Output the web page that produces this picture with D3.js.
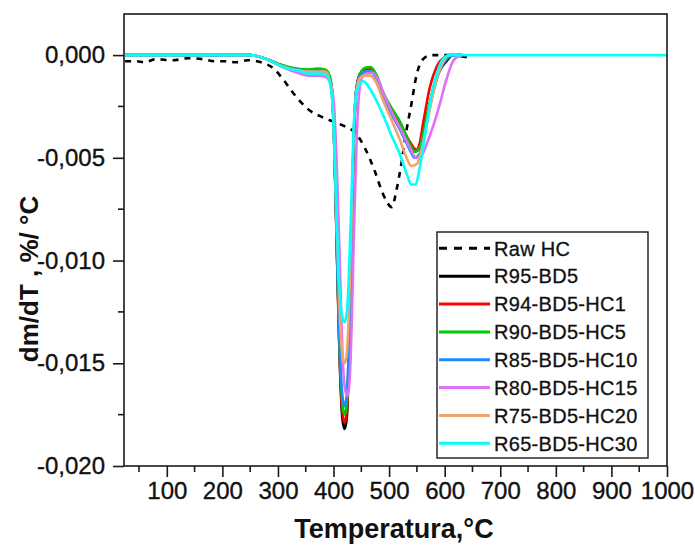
<!DOCTYPE html>
<html>
<head>
<meta charset="utf-8">
<script src="https://cdn.jsdelivr.net/npm/d3@7"></script>
<style>
  html, body { margin: 0; padding: 0; background: #fff; }
  svg { display: block; font-family: "Liberation Sans", Arial, sans-serif; }
</style>
</head>
<body>
<svg id="chart" width="695" height="545"></svg>
<script>
// DTG curves: temperature (°C) and mass-loss rate (%/°C)
const rawHcT = [25, 45, 60, 80, 110, 140, 165, 185, 205, 225, 245, 262, 275, 290, 309, 327, 354, 381, 411, 441, 456, 474, 489, 505, 513, 522, 531, 540, 549, 561, 576, 600, 640];
const rawHcV = [-0.0003, -0.0003, -0.00035, -0.0002, -0.00025, -0.00015, -0.0002, -0.0003, -0.0003, -0.00035, -0.00025, -0.0003, -0.0004, -0.0006, -0.00117, -0.00183, -0.00263, -0.00304, -0.00336, -0.00384, -0.0045, -0.00563, -0.00676, -0.0074, -0.0066, -0.0053, -0.0037, -0.0024, -0.00102, -0.0002, 0, 0, 0];

const r95T = [25, 200, 250, 280, 309, 339, 355, 370, 385, 393, 398, 402, 406, 411, 416, 420, 424, 428, 432, 436, 441, 448, 458, 466, 478, 489, 505, 519, 537, 546, 553, 561, 573, 585, 603, 615, 640];
const r95V = [0, 0, 0, -0.0002, -0.00053, -0.0007, -0.00075, -0.00072, -0.00075, -0.0011, -0.002, -0.005, -0.0095, -0.0148, -0.0177, -0.0182, -0.0176, -0.0145, -0.0095, -0.0045, -0.0017, -0.0009, -0.00065, -0.0006, -0.0011, -0.0019, -0.0027, -0.0033, -0.0043, -0.0047, -0.0046, -0.0038, -0.0024, -0.0011, -0.0003, 0, -0.0001];

const r94T = [25, 200, 250, 280, 309, 339, 355, 370, 385, 393, 398, 402, 406, 411, 416, 420, 424, 428, 432, 436, 441, 448, 458, 466, 478, 489, 505, 519, 537, 549, 555, 562, 573, 585, 600, 612, 625];
const r94V = [0, 0, 0, -0.0002, -0.00053, -0.0007, -0.00077, -0.00075, -0.00078, -0.0011, -0.002, -0.005, -0.0095, -0.0146, -0.0174, -0.0179, -0.0173, -0.0143, -0.0094, -0.0045, -0.0017, -0.0009, -0.00068, -0.00065, -0.0011, -0.0019, -0.0027, -0.0033, -0.0042, -0.0046, -0.0043, -0.0032, -0.0016, -0.0006, -0.0001, 0, 0];

const r90T = [25, 200, 250, 280, 309, 339, 355, 370, 385, 393, 398, 402, 406, 411, 416, 420, 424, 428, 432, 436, 441, 448, 458, 466, 478, 489, 505, 519, 537, 546, 555, 564, 575, 588, 603, 615, 630];
const r90V = [0, 0, 0, -0.0002, -0.0005, -0.00068, -0.0007, -0.00065, -0.0007, -0.001, -0.0019, -0.0048, -0.0092, -0.0143, -0.017, -0.0175, -0.0169, -0.014, -0.0092, -0.0044, -0.0017, -0.0009, -0.0006, -0.00058, -0.001, -0.0018, -0.0026, -0.0032, -0.0043, -0.0047, -0.0045, -0.0035, -0.0021, -0.0009, -0.0002, 0, 0];

const r85T = [25, 200, 250, 280, 309, 339, 355, 370, 385, 393, 398, 402, 406, 411, 416, 420, 424, 428, 432, 436, 441, 448, 458, 466, 478, 489, 505, 519, 537, 546, 555, 564, 575, 588, 603, 615, 630];
const r85V = [0, 0, 0, -0.0002, -0.00055, -0.00072, -0.0008, -0.00078, -0.0008, -0.0012, -0.0022, -0.005, -0.0093, -0.0142, -0.0166, -0.0171, -0.0165, -0.0138, -0.009, -0.0043, -0.0017, -0.001, -0.0008, -0.00078, -0.0012, -0.002, -0.0029, -0.0036, -0.0046, -0.005, -0.0048, -0.0038, -0.0023, -0.001, -0.0002, 0, 0];

const r80T = [25, 200, 250, 280, 309, 339, 355, 370, 385, 395, 401, 406, 411, 416, 421, 425, 429, 433, 437, 442, 447, 453, 462, 470, 480, 492, 507, 521, 537, 549, 558, 568, 580, 591, 603, 615, 630];
const r80V = [0, 0, 0, -0.0002, -0.0006, -0.0009, -0.001, -0.001, -0.00105, -0.0014, -0.0025, -0.0055, -0.0098, -0.0145, -0.0163, -0.0166, -0.0158, -0.0128, -0.0082, -0.0038, -0.0016, -0.001, -0.0009, -0.00085, -0.0012, -0.002, -0.0029, -0.0036, -0.0045, -0.005, -0.0049, -0.0043, -0.0034, -0.0024, -0.0012, -0.0003, 0];

const r75T = [25, 170, 190, 200, 250, 280, 309, 339, 355, 370, 385, 393, 398, 402, 406, 411, 416, 420, 424, 428, 432, 436, 441, 448, 456, 466, 478, 489, 505, 519, 530, 540, 550, 560, 572, 585, 600, 612, 625];
const r75V = [0, 0, 0.00003, 0, 0, -0.0002, -0.00055, -0.00075, -0.0008, -0.0008, -0.0008, -0.0012, -0.0022, -0.0048, -0.0085, -0.0125, -0.0146, -0.015, -0.0145, -0.0122, -0.0083, -0.004, -0.0018, -0.0011, -0.001, -0.001, -0.0014, -0.0022, -0.0032, -0.0041, -0.0049, -0.0054, -0.0053, -0.0044, -0.0028, -0.0012, -0.0002, 0.00005, 0];

const r65T = [25, 200, 250, 280, 309, 339, 355, 370, 385, 393, 398, 402, 406, 411, 416, 420, 424, 428, 432, 436, 441, 447, 453, 462, 475, 489, 504, 519, 532, 540, 547, 555, 565, 576, 587, 598, 610, 1000];
const r65V = [0, 0, 0, -0.0002, -0.00058, -0.00078, -0.0009, -0.0009, -0.00095, -0.0013, -0.0023, -0.0048, -0.0082, -0.0115, -0.0128, -0.013, -0.0125, -0.0105, -0.0072, -0.0037, -0.0019, -0.0014, -0.00126, -0.0015, -0.0021, -0.0029, -0.0039, -0.0048, -0.0058, -0.0063, -0.0063, -0.0055, -0.0038, -0.002, -0.0008, -0.00015, 0, 0];

const seriesNames = ["Raw HC", "R95-BD5", "R94-BD5-HC1", "R90-BD5-HC5", "R85-BD5-HC10", "R80-BD5-HC15", "R75-BD5-HC20", "R65-BD5-HC30"];
const seriesColors = ["#000000", "#000000", "#ff0000", "#00cc00", "#1a8cff", "#e070f5", "#f4a469", "#00ffff"];
const seriesT = [rawHcT, r95T, r94T, r90T, r85T, r80T, r75T, r65T];
const seriesV = [rawHcV, r95V, r94V, r90V, r85V, r80V, r75V, r65V];

const xTicks = [100, 200, 300, 400, 500, 600, 700, 800, 900, 1000];
const yTicks = [0, -0.005, -0.010, -0.015, -0.020];

const svg = d3.select("#chart");
const m = { left: 124, right: 667, top: 14, bottom: 466 };

const x = d3.scaleLinear().domain([23, 1000]).range([m.left, m.right]);
const y = d3.scaleLinear().domain([-0.020, 0.002]).range([m.bottom, m.top]);

svg.append("clipPath").attr("id", "clip")
  .append("rect").attr("x", m.left).attr("y", m.top)
  .attr("width", m.right - m.left).attr("height", m.bottom - m.top);

const line = d3.line()
  .x(d => x(d[0]))
  .y(d => y(d[1]))
  .curve(d3.curveMonotoneX);

// dashed raw char first, then each blend in legend order
const curves = svg.append("g").attr("clip-path", "url(#clip)");
seriesNames.forEach((name, i) => {
  const pts = seriesT[i].map((t, k) => [t, seriesV[i][k]]);
  curves.append("path")
    .datum(pts)
    .attr("d", line)
    .attr("fill", "none")
    .attr("stroke", seriesColors[i])
    .attr("stroke-width", 2.6)
    .attr("stroke-linejoin", "round")
    .attr("stroke-dasharray", i === 0 ? "6,6" : null);
});

// frame
svg.append("rect")
  .attr("x", m.left).attr("y", m.top)
  .attr("width", m.right - m.left).attr("height", m.bottom - m.top)
  .attr("fill", "none").attr("stroke", "#1a1a1a").attr("stroke-width", 1.6);

const tickFont = g => g.selectAll(".tick text")
  .attr("font-size", 24).attr("fill", "#111")
  .attr("stroke", "#111").attr("stroke-width", 0.35)
  .attr("font-family", "'Liberation Sans', Arial, sans-serif");

// x axis
const xMinor = d3.range(50, 1001, 100);
const xAxis = svg.append("g").attr("transform", `translate(0,${m.bottom})`);
xAxis.selectAll(".minor").data(xMinor).enter().append("line")
  .attr("x1", d => x(d)).attr("x2", d => x(d)).attr("y1", 0).attr("y2", 6)
  .attr("stroke", "#1a1a1a").attr("stroke-width", 1.6);
xAxis.call(d3.axisBottom(x).tickValues(xTicks).tickSize(11).tickPadding(5).tickFormat(d3.format("d")))
  .call(g => g.select(".domain").remove())
  .call(g => g.selectAll(".tick line").attr("stroke", "#1a1a1a").attr("stroke-width", 1.6))
  .call(tickFont);

// y axis
const yMinor = [-0.0025, -0.0075, -0.0125, -0.0175];
const yAxis = svg.append("g").attr("transform", `translate(${m.left},0)`);
yAxis.selectAll(".minor").data(yMinor).enter().append("line")
  .attr("y1", d => y(d)).attr("y2", d => y(d)).attr("x1", 0).attr("x2", -6)
  .attr("stroke", "#1a1a1a").attr("stroke-width", 1.6);
yAxis.call(d3.axisLeft(y).tickValues(yTicks).tickSize(11).tickPadding(8)
    .tickFormat(d => d3.format(".3f")(d).replace("−", "-").replace(".", ",")))
  .call(g => g.select(".domain").remove())
  .call(g => g.selectAll(".tick line").attr("stroke", "#1a1a1a").attr("stroke-width", 1.6))
  .call(tickFont);

// axis titles
svg.append("text")
  .attr("x", 394).attr("y", 538)
  .attr("text-anchor", "middle")
  .attr("font-size", 27).attr("font-weight", "bold").attr("fill", "#111")
  .text("Temperatura,°C");
svg.append("text")
  .attr("transform", "translate(38,279) rotate(-90)")
  .attr("text-anchor", "middle")
  .attr("font-size", 26).attr("font-weight", "bold").attr("fill", "#111")
  .text("dm/dT , %/ °C");

// legend
const lg = svg.append("g");
lg.append("rect").attr("x", 437).attr("y", 232).attr("width", 211).attr("height", 226)
  .attr("fill", "#fff").attr("stroke", "#1a1a1a").attr("stroke-width", 1.4);
seriesNames.forEach((name, i) => {
  const yy = 248.3 + i * 27.86;
  lg.append("line").attr("x1", 439).attr("x2", 490).attr("y1", yy).attr("y2", yy)
    .attr("stroke", seriesColors[i]).attr("stroke-width", 3)
    .attr("stroke-dasharray", i === 0 ? "8,7" : null);
  lg.append("text").attr("x", 494).attr("y", yy).attr("dy", "0.36em")
    .attr("font-size", 20).attr("fill", "#111").attr("letter-spacing", 0.3)
    .attr("stroke", "#111").attr("stroke-width", 0.3)
    .text(name);
});
</script>
</body>
</html>
